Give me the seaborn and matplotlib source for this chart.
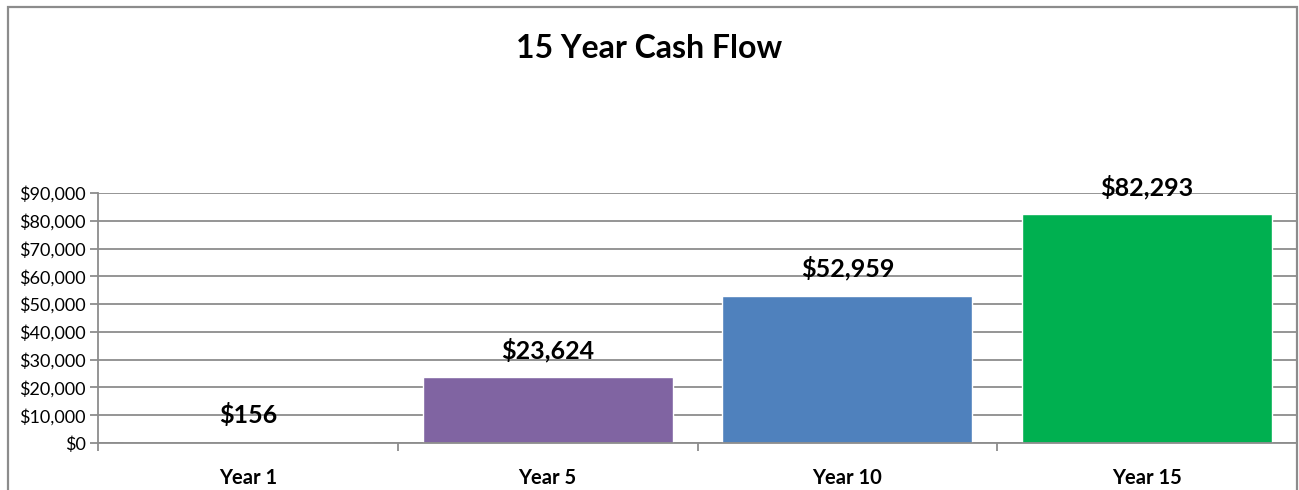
import numpy as np
import matplotlib
matplotlib.use("Agg")
import matplotlib.pyplot as plt
from matplotlib.patches import Rectangle
from matplotlib.ticker import FuncFormatter, FixedLocator
import seaborn as sns

# data
years = ["Year 1", "Year 5", "Year 10", "Year 15"]
cash_flow = [156, 23624, 52959, 82293]
bar_colors = ["#C0504D", "#8064A2", "#4F81BD", "#00B050"]

sns.set_style("white")
plt.rcParams['font.family'] = ['Lato', 'DejaVu Sans']
plt.rcParams['text.color'] = 'black'
plt.rcParams['xtick.color'] = 'black'
plt.rcParams['ytick.color'] = 'black'

fig = plt.figure(figsize=(12.99, 4.90), dpi=100)
ax = fig.add_axes([98 / 1299, 47 / 490, (1297 - 98) / 1299, 250 / 490])

# outer chart frame (bottom edge runs past the image)
fig.patches.append(Rectangle((8 / 1299, -0.1), 1289 / 1299, 1.1 - 7 / 490,
                             transform=fig.transFigure, fill=False,
                             edgecolor="#8C8C8C", linewidth=1.6))

sns.barplot(x=years, y=cash_flow, hue=years, palette=bar_colors,
            width=0.834, legend=False, ax=ax, saturation=1)

ax.set_ylim(0, 90000)
ax.set_xlim(-0.5, 3.5)
ax.set_yticks(np.arange(0, 90001, 10000))
ax.yaxis.set_major_formatter(FuncFormatter(lambda v, p: f"${v:,.0f}"))
ax.grid(axis="y", color="#8C8C8C", linewidth=1.3)
ax.set_axisbelow(True)

for s in ["top", "right"]:
    ax.spines[s].set_visible(False)
for s in ["left", "bottom"]:
    ax.spines[s].set_color("#8C8C8C")
    ax.spines[s].set_linewidth(1.3)

ax.tick_params(axis="y", length=6, color="#8C8C8C", width=1.3, labelsize=13,
               pad=3, left=True, labelcolor="black")
ax.tick_params(axis="x", which="major", length=0, labelsize=14.5, pad=18,
               labelcolor="black")
ax.xaxis.set_minor_locator(FixedLocator([-0.5, 0.5, 1.5, 2.5]))
ax.tick_params(axis="x", which="minor", length=6, color="#8C8C8C", width=1.3,
               bottom=True)
for lbl in ax.get_xticklabels():
    lbl.set_fontweight("bold")

for i, v in enumerate(cash_flow):
    ax.annotate(f"${v:,.0f}", (i, v), xytext=(0, 11), textcoords="offset points",
                ha="center", va="bottom", fontsize=18, fontweight="bold",
                color="black")

ax.set_xlabel("")
ax.set_ylabel("")
fig.text(0.5, 1 - 48 / 490, "15 Year Cash Flow", ha="center", va="center",
         fontsize=23, fontweight="bold", color="black")

fig.savefig("out.png", dpi=100)
